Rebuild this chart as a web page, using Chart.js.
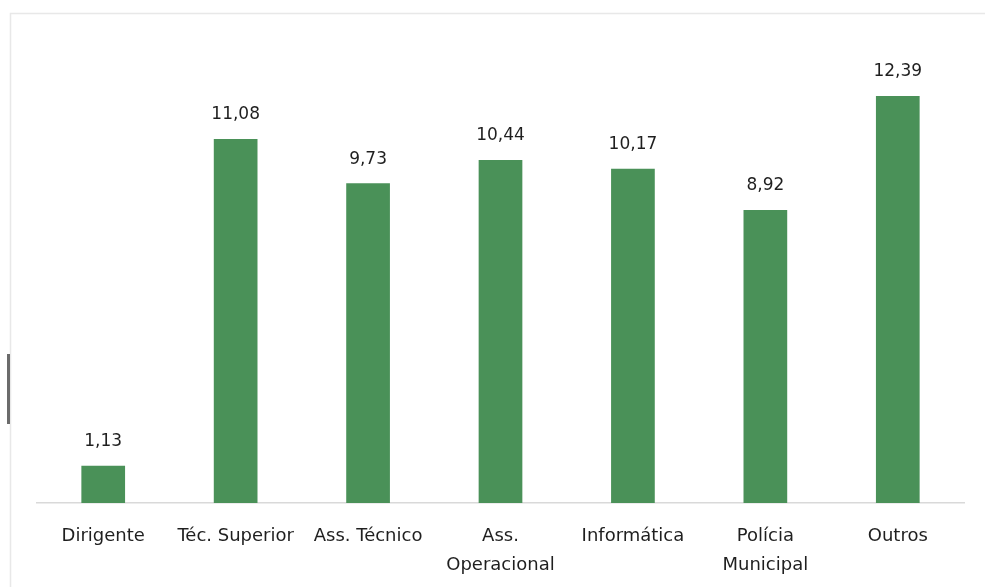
<!DOCTYPE html>
<html>
<head>
<meta charset="utf-8">
<script src="https://cdn.jsdelivr.net/npm/chart.js@4"></script>
<style>
  html, body { margin: 0; padding: 0; background: #fff; }
  #wrap { width: 985px; height: 587px; position: relative; }
</style>
</head>
<body>
<div id="wrap"><canvas id="mychart"></canvas></div>
<script>
let categorias = ["Dirigente", "Téc. Superior", "Ass. Técnico", ["Ass.", "Operacional"], "Informática", ["Polícia", "Municipal"], "Outros"];
let valores = [1.13, 11.08, 9.73, 10.44, 10.17, 8.92, 12.39];
let rotulos = ["1,13", "11,08", "9,73", "10,44", "10,17", "8,92", "12,39"];

let fonte = "'DejaVu Sans', 'Open Sans', sans-serif";

// value labels above the bars + light frame round the chart
let extras = {
  id: "extras",
  beforeDraw(chart) {
    let ctx = chart.ctx;
    ctx.save();
    ctx.strokeStyle = "#e8e8e8";
    ctx.lineWidth = 1.5;
    ctx.strokeRect(10.5, 13.5, 990, 600);
    // dark mark on the left edge of the scan
    ctx.fillStyle = "#6b6b6b";
    ctx.fillRect(7, 354, 3, 70);
    ctx.restore();
  },
  afterDatasetsDraw(chart) {
    let ctx = chart.ctx;
    let meta = chart.getDatasetMeta(0);
    ctx.save();
    ctx.font = "17px " + fonte;
    ctx.fillStyle = "#1f1f1f";
    ctx.textAlign = "center";
    ctx.textBaseline = "middle";
    meta.data.forEach((bar, i) => {
      ctx.fillText(rotulos[i], bar.x, bar.y - 24);
    });
    ctx.restore();
  }
};

let mychart = document.getElementById("mychart").getContext("2d");
let chart = new Chart(mychart, {
  type: "bar",
  data: {
    labels: categorias,
    datasets: [
      {
        data: valores,
        backgroundColor: "#4a9158",
        barPercentage: 0.33,
        categoryPercentage: 1,
      },
    ],
  },
  options: {
    responsive: true,
    maintainAspectRatio: false,
    animation: false,
    layout: { padding: { left: 37, right: 21, top: 43, bottom: 0 } },
    plugins: { legend: { display: false }, tooltip: { enabled: false } },
    scales: {
      x: {
        grid: { display: false },
        border: { color: "#d9d9d9", width: 1.5 },
        afterFit: (scale) => { scale.height = 84; },
        ticks: {
          color: "#1f1f1f",
          padding: 11,
          maxRotation: 0,
          autoSkip: false,
          font: { family: fonte, size: 18, lineHeight: 1.6 },
        },
      },
      y: {
        display: false,
        min: 0,
        max: 14,
      },
    },
  },
  plugins: [extras],
});
</script>
</body>
</html>
